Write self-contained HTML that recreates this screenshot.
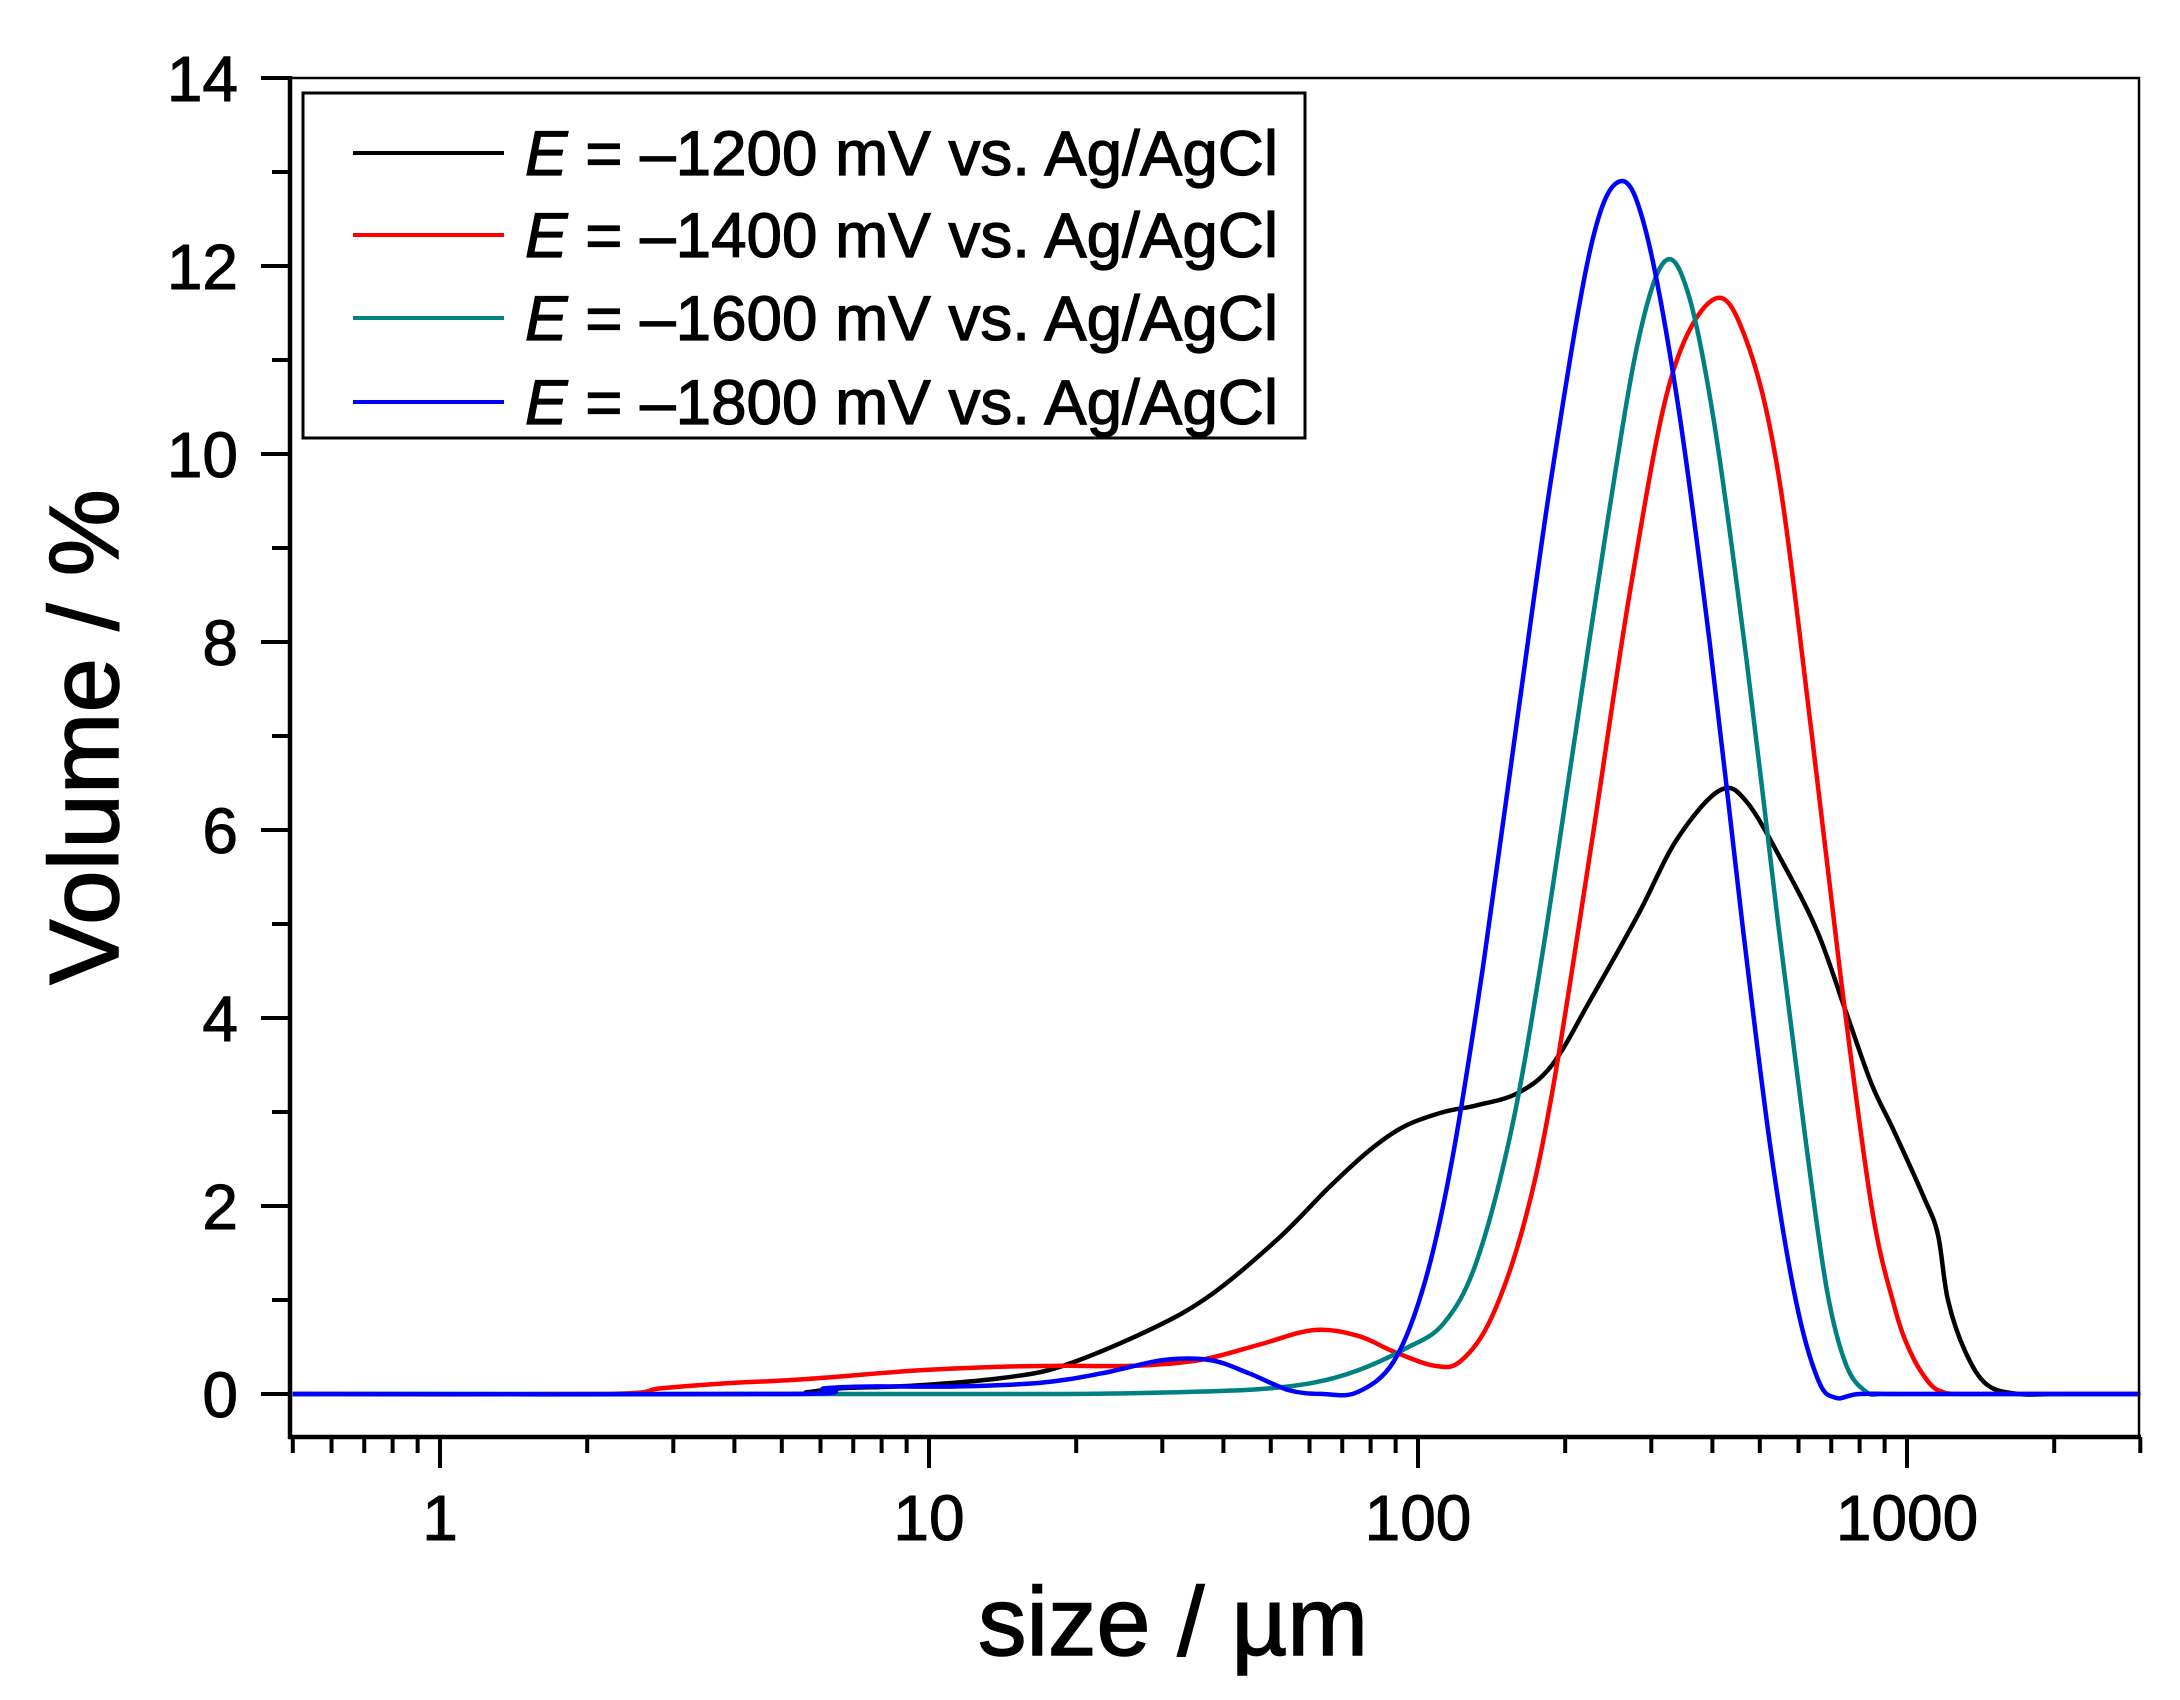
<!DOCTYPE html>
<html><head><meta charset="utf-8"><style>
html,body{margin:0;padding:0;background:#fff;}
svg{display:block;}
text{font-family:"Liberation Sans",Arial,sans-serif;fill:#000;}
</style></head><body>
<svg id="s" width="2180" height="1700" viewBox="0 0 2180 1700" xmlns="http://www.w3.org/2000/svg">
<rect x="0" y="0" width="2180" height="1700" fill="#fff"/>
<g id="ticks" stroke="#000" stroke-width="4" fill="none"></g>
<g id="curves" fill="none" stroke-width="4.5" stroke-linejoin="round"></g>
<rect x="290" y="78" width="1849" height="1359" fill="none" stroke="#000" stroke-width="2.5"/>
<line x1="290" y1="76" x2="290" y2="1439" stroke="#000" stroke-width="4.5"/>
<line x1="288" y1="1437" x2="2141" y2="1437" stroke="#000" stroke-width="4.5"/>
<g id="labels" font-size="64" stroke="#000" stroke-width="1"></g>
<rect x="303" y="93" width="1002" height="345" fill="#fff" stroke="#000" stroke-width="3"/>
<g stroke-width="4">
<line x1="353" y1="153" x2="504" y2="153" stroke="#000"/>
<line x1="353" y1="235" x2="504" y2="235" stroke="#ff0000"/>
<line x1="353" y1="318" x2="504" y2="318" stroke="#008080"/>
<line x1="353" y1="402" x2="504" y2="402" stroke="#0000ff"/>
</g>
<g font-size="63" stroke="#000" stroke-width="1.2">
<text x="525" y="175" textLength="753" lengthAdjust="spacingAndGlyphs"><tspan font-style="italic">E</tspan> = –1200 mV vs. Ag/AgCl</text>
<text x="525" y="257" textLength="753" lengthAdjust="spacingAndGlyphs"><tspan font-style="italic">E</tspan> = –1400 mV vs. Ag/AgCl</text>
<text x="525" y="340" textLength="753" lengthAdjust="spacingAndGlyphs"><tspan font-style="italic">E</tspan> = –1600 mV vs. Ag/AgCl</text>
<text x="525" y="424" textLength="753" lengthAdjust="spacingAndGlyphs"><tspan font-style="italic">E</tspan> = –1800 mV vs. Ag/AgCl</text>
</g>
<text x="1173" y="1655" font-size="97" text-anchor="middle" stroke="#000" stroke-width="1.5">size / µm</text>
<text transform="translate(118,737) rotate(-90)" font-size="98" text-anchor="middle" stroke="#000" stroke-width="1.5">Volume / %</text>
</svg>
<script>
var NS="http://www.w3.org/2000/svg";
function X(v){return 440+489*Math.log10(v);}
function Y(v){return 1394-94*v;}
var t=document.getElementById("ticks"),L=document.getElementById("labels");
function ln(a,b,c,d){var e=document.createElementNS(NS,"line");e.setAttribute("x1",a);e.setAttribute("y1",b);e.setAttribute("x2",c);e.setAttribute("y2",d);t.appendChild(e);}
function tx(s,x,y,anc){var e=document.createElementNS(NS,"text");e.setAttribute("x",x);e.setAttribute("y",y);e.setAttribute("text-anchor",anc);e.textContent=s;L.appendChild(e);}
for(var i=0;i<=14;i++){var y=Y(i);if(i%2==0){ln(261,y,290,y);tx(""+i,238,y+23,"end");}else ln(272,y,290,y);}
var decs=[0.1,1,10,100,1000];
decs.forEach(function(d){for(var k=1;k<10;k++){var v=d*k;if(v<0.5||v>3000)continue;var x=X(v);if(k==1){ln(x,1437,x,1468);tx(""+v,x,1540,"middle");}else ln(x,1437,x,1453);}});
var data={
"#000000":[[0.5,0],[5,0],[6,0.02],[7,0.06],[10,0.09],[15,0.17],[20,0.3],[30,0.68],[40,1.05],[55,1.65],[70,2.2],[85,2.6],[100,2.85],[120,3.0],[140,3.07],[170,3.2],[200,3.5],[240,4.2],[300,5.1],[360,5.9],[440,6.42],[500,6.3],[600,5.6],[700,4.9],[800,4.05],[900,3.3],[1000,2.8],[1150,2.1],[1230,1.7],[1290,1.0],[1400,0.45],[1550,0.1],[1800,0],[2200,0],[3000,0]],
"#ff0000":[[0.5,0],[2.3,0],[3,0.06],[4,0.11],[6,0.16],[10,0.25],[15,0.29],[20,0.3],[28,0.3],[38,0.36],[50,0.52],[65,0.68],[80,0.62],[95,0.45],[115,0.3],[130,0.35],[150,0.8],[175,1.8],[200,3.2],[240,5.8],[290,8.6],[350,10.8],[430,11.65],[500,11.2],[580,9.8],[680,7.0],[780,4.4],[900,2.0],[1000,0.95],[1080,0.45],[1180,0.12],[1260,0.02],[1350,0],[1600,0],[3000,0]],
"#008080":[[0.5,0],[5,0],[20,0],[35,0.02],[50,0.05],[65,0.12],[80,0.25],[100,0.48],[120,0.75],[140,1.4],[165,2.8],[190,4.6],[220,6.8],[260,9.3],[300,11.2],[340,12.05],[380,11.7],[430,10.3],[500,7.8],[580,5.0],[660,2.7],[730,1.1],[800,0.3],[880,0.02],[950,0],[1200,0],[3000,0]],
"#0000ff":[[0.5,0],[5.5,0],[6.5,0.06],[8,0.08],[12,0.08],[18,0.12],[24,0.22],[32,0.36],[40,0.36],[48,0.22],[58,0.04],[68,0],[80,0.02],[95,0.35],[110,1.2],[125,2.5],[145,4.6],[170,7.2],[200,9.8],[240,12.2],[275,12.9],[310,12.4],[360,10.6],[420,8.0],[490,5.0],[560,2.6],[630,1.0],[700,0.15],[760,-0.04],[850,0],[1100,0],[3000,0]]
};
var c=document.getElementById("curves");
for(var col in data){var p=data[col].map(function(q){var xv=q[0];if(xv>0.6&&xv<2900)xv*=0.94;return [X(xv),Y(q[1])];});
var d="M"+p[0][0]+","+p[0][1];
for(var i=0;i<p.length-1;i++){var p0=p[Math.max(i-1,0)],p1=p[i],p2=p[i+1],p3=p[Math.min(i+2,p.length-1)];
var c1x=p1[0]+(p2[0]-p0[0])/6,c1y=p1[1]+(p2[1]-p0[1])/6,c2x=p2[0]-(p3[0]-p1[0])/6,c2y=p2[1]-(p3[1]-p1[1])/6;
d+=" C"+c1x+","+c1y+" "+c2x+","+c2y+" "+p2[0]+","+p2[1];}
var e=document.createElementNS(NS,"path");e.setAttribute("d",d);e.setAttribute("stroke",col);c.appendChild(e);}
</script>
</body></html>
